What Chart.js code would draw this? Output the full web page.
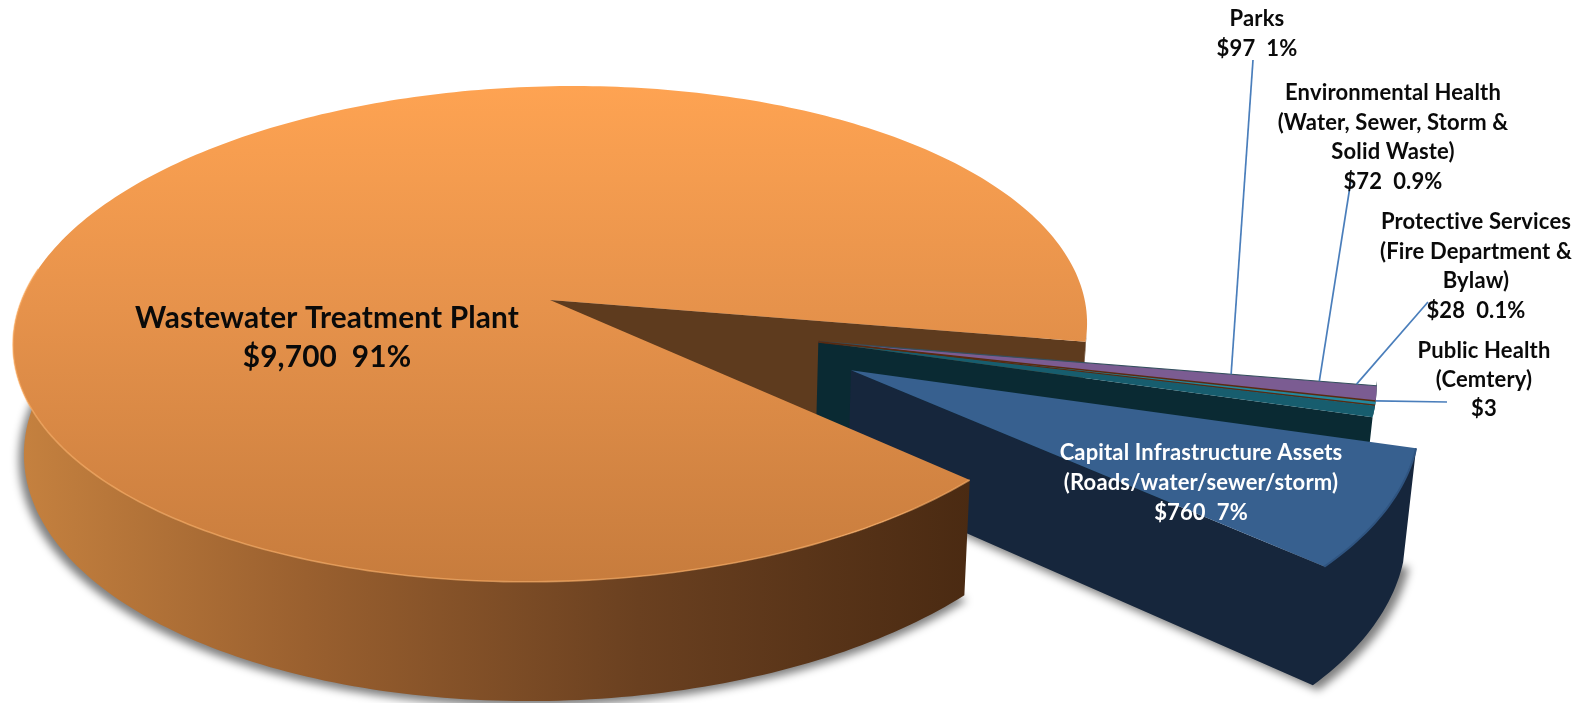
<!DOCTYPE html>
<html>
<head>
<meta charset="utf-8">
<title>Capital spending</title>
<script src="https://cdn.jsdelivr.net/npm/chart.js@4"></script>
<style>
    html, body { margin: 0; padding: 0; background: #fff; }
    canvas { display: block; }
</style>
</head>
<body>
<canvas id="spendChart" width="1587" height="703"></canvas>
<script>
// Slices, clockwise from the start of the big one
const categories = ['Wastewater Treatment Plant', 'Parks', 'Protective Services', 'Public Health', 'Environmental Health', 'Capital Infrastructure Assets'];
const amounts = [9700, 97, 28, 3, 72, 760];

// Label lines for each slice
const labelLines = [
    ['Wastewater Treatment Plant', '$9,700  91%'],
    ['Parks', '$97  1%'],
    ['Protective Services', '(Fire Department &', 'Bylaw)', '$28  0.1%'],
    ['Public Health', '(Cemtery)', '$3'],
    ['Environmental Health', '(Water, Sewer, Storm &', 'Solid Waste)', '$72  0.9%'],
    ['Capital Infrastructure Assets', '(Roads/water/sewer/storm)', '$760  7%']
];

// Slice styling
const topColors = ['#e08c48', '#7b5c92', '#23889e', '#5a2a10', '#175d6e', '#37608f'];
const wallColors = ['#5e3b1e', '#0a2a33', '#0a2a33', '#0a2a33', '#0a2a33', '#16263c'];
const pullOut = [0, 280, 280, 280, 280, 330];
const pullBearing = [0, 21, 21, 21, 21, 29];

// Where the text sits: centre x, centre y of first line
const labelAnchors = [[327, 318], [1257, 19], [1476, 222], [1484, 351], [1393, 93], [1201, 453]];
const labelSizes = [29.8, 22, 22, 22, 22, 22];
const labelLineGap = [39, 30, 29.6, 29, 29.6, 29.8];
const labelColors = ['#0a0a0a', '#0a0a0a', '#0a0a0a', '#0a0a0a', '#0a0a0a', '#ffffff'];

// Leader lines: how far along the top edge of the Parks slice, and the free end
const leaderReach = [0.745, 0.9, 0.965, 1];
const leaderEnds = [[1253, 60], [1351, 180], [1428, 302], [1447, 402]];

// Camera for the tilted disc
const TILT = 0.137;
const FLATTEN = 243;
const SKEW = 0.02;

function toRad(deg) {
    return deg * Math.PI / 180;
}

// Disc plane to screen, with perspective
function project(arc, X, Y) {
    const w = 1 - TILT * Y;
    const dx = arc.outerRadius * X / w;
    return { x: arc.x + dx, y: arc.y + FLATTEN * Y / w - SKEW * dx };
}

function slicePoint(arc, index, angle, reach) {
    const shift = pullOut[index] / arc.outerRadius;
    const bearing = toRad(pullBearing[index]);
    return project(arc,
        shift * Math.cos(bearing) + reach * Math.cos(angle),
        shift * Math.sin(bearing) + reach * Math.sin(angle));
}

// Same point on the underside of the disc
function drop(p) {
    return { x: p.x + (654 - p.x) * 0.0171, y: p.y + 96 + 0.04 * p.y };
}

function rimPoints(arc, index, from, to) {
    const steps = Math.max(2, Math.ceil(Math.abs(to - from) / toRad(1)));
    const pts = [];
    for (let i = 0; i <= steps; i++) {
        pts.push(slicePoint(arc, index, from + (to - from) * i / steps, 1));
    }
    return pts;
}

function fillPoly(ctx, pts, fill) {
    ctx.beginPath();
    pts.forEach((p, i) => i ? ctx.lineTo(p.x, p.y) : ctx.moveTo(p.x, p.y));
    ctx.closePath();
    ctx.fillStyle = fill;
    ctx.fill();
}

function strokeLine(ctx, pts, color, width) {
    ctx.beginPath();
    pts.forEach((p, i) => i ? ctx.lineTo(p.x, p.y) : ctx.moveTo(p.x, p.y));
    ctx.strokeStyle = color;
    ctx.lineWidth = width;
    ctx.stroke();
}

function topFace(arc, index) {
    return [slicePoint(arc, index, arc.startAngle, 0)].concat(rimPoints(arc, index, arc.startAngle, arc.endAngle));
}

// Extruded side between two lines on the top face
function wallFrom(pts) {
    return pts.concat(pts.map(drop).reverse());
}

function softShadow(ctx, arc, index) {
    const under = topFace(arc, index).map(drop).map(p => ({
        x: p.x + (p.x - 654) * 0.008,
        y: p.y + 5
    }));
    ctx.save();
    ctx.filter = 'blur(4px)';
    fillPoly(ctx, under, 'rgba(0, 0, 0, 0.5)');
    ctx.restore();
}

function drawLabels(ctx) {
    ctx.textAlign = 'center';
    ctx.textBaseline = 'middle';
    ctx.letterSpacing = '0.15px'; // also keeps Lato from joining "ti"
    labelLines.forEach((lines, i) => {
        ctx.font = 'bold ' + labelSizes[i] + 'px Lato';
        ctx.fillStyle = labelColors[i];
        lines.forEach((line, n) => {
            ctx.fillText(line, labelAnchors[i][0], labelAnchors[i][1] + n * labelLineGap[i]);
        });
    });
}

// Replaces the flat pie drawing with the extruded one, using the arc elements' angles
const extrudedPie = {
    id: 'extrudedPie',
    beforeDatasetDraw(chart) {
        const ctx = chart.ctx;
        const arcs = chart.getDatasetMeta(0).data;
        const main = arcs[0];
        const capital = arcs[5];
        const smallIdx = [1, 2, 3, 4];

        softShadow(ctx, main, 0);
        softShadow(ctx, capital, 5);

        // back cut face of the big slice
        const mainTip = slicePoint(main, 0, main.endAngle, 0);
        const mainEdge = slicePoint(main, 0, main.endAngle, 1);
        fillPoly(ctx, wallFrom([mainTip, mainEdge]), wallColors[0]);
        const mainBackRim = rimPoints(main, 0, main.endAngle - toRad(2), main.endAngle);
        fillPoly(ctx, wallFrom(mainBackRim), wallColors[0]);

        // narrow slices sit together as one block
        const lastSmall = arcs[4];
        const blockEdge = [slicePoint(lastSmall, 4, lastSmall.endAngle, 0)].concat(
            rimPoints(lastSmall, 4, lastSmall.endAngle, arcs[1].startAngle - toRad(1)));
        fillPoly(ctx, wallFrom(blockEdge), wallColors[4]);
        smallIdx.forEach(i => {
            const face = topFace(arcs[i], i);
            fillPoly(ctx, face, topColors[i]);
            if (i === 3) {
                strokeLine(ctx, face.slice(0, 2), topColors[3], 2);
            }
        });
        const parks = arcs[1];
        strokeLine(ctx, [slicePoint(parks, 1, parks.startAngle, 0), slicePoint(parks, 1, parks.startAngle, 1)], '#35505f', 1.2);
        strokeLine(ctx, [slicePoint(parks, 1, parks.endAngle, 0), slicePoint(parks, 1, parks.endAngle, 1)], '#5a2a10', 1.5);

        // capital slice, nearer than the block
        const capEdge = [slicePoint(capital, 5, capital.endAngle, 0)].concat(
            rimPoints(capital, 5, capital.endAngle, capital.startAngle));
        fillPoly(ctx, wallFrom(capEdge), wallColors[5]);
        fillPoly(ctx, topFace(capital, 5), topColors[5]);
        strokeLine(ctx, rimPoints(capital, 5, capital.startAngle, capital.endAngle), '#2f5480', 2);

        // big slice last: it hides the inner ends of the others
        const sideGrad = ctx.createLinearGradient(20, 0, 972, 0);
        sideGrad.addColorStop(0, '#c5813f');
        sideGrad.addColorStop(0.3, '#9a602f');
        sideGrad.addColorStop(0.65, '#6a4020');
        sideGrad.addColorStop(1, '#4a2a12');
        const frontRim = rimPoints(main, 0, main.startAngle, toRad(190));
        fillPoly(ctx, wallFrom(frontRim), sideGrad);

        const topGrad = ctx.createLinearGradient(0, 86, 0, 582);
        topGrad.addColorStop(0, '#fea352');
        topGrad.addColorStop(0.45, '#e6924b');
        topGrad.addColorStop(1, '#c77c3d');
        fillPoly(ctx, topFace(main, 0), topGrad);
        strokeLine(ctx, frontRim, 'rgba(255, 178, 105, 0.6)', 1.6);

        // leader lines land on the Parks top edge, the last one on the rim below it
        leaderReach.forEach((reach, n) => {
            const angle = n === 3 ? parks.endAngle : parks.startAngle;
            const base = slicePoint(parks, 1, angle, reach);
            strokeLine(ctx, [base, { x: leaderEnds[n][0], y: leaderEnds[n][1] }], '#4a7ebb', 1.7);
        });

        drawLabels(ctx);
        return false;
    }
};

const spendChart = new Chart(document.getElementById('spendChart'), {
    type: 'pie',
    data: {
        labels: categories,
        datasets: [{
            data: amounts,
            backgroundColor: topColors,
            borderWidth: 0
        }]
    },
    options: {
        responsive: false,
        animation: false,
        rotation: 134.5,
        radius: 532,
        layout: { padding: { right: 487, bottom: 103 } },
        plugins: {
            legend: { display: false },
            tooltip: { enabled: false }
        }
    },
    plugins: [extrudedPie]
});
</script>
</body>
</html>
